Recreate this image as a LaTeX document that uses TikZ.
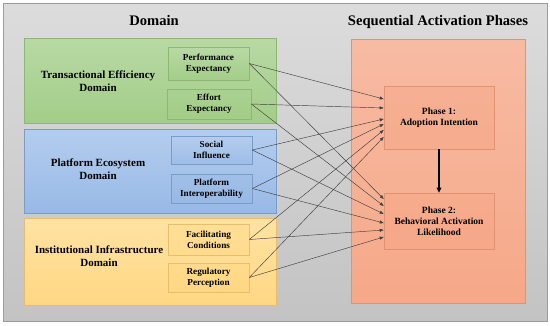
\documentclass[tikz,border=0pt]{standalone}
\usepackage{fontspec}
\setmainfont{Liberation Serif}
\usetikzlibrary{arrows.meta}
\definecolor{grayT}{HTML}{DCDCDC}
\definecolor{grayB}{HTML}{C3C3C3}
\definecolor{grnT}{HTML}{B8D9A4}
\definecolor{grnB}{HTML}{A3CD88}
\definecolor{grnD}{HTML}{8DB874}
\definecolor{bluT}{HTML}{B4CDEE}
\definecolor{bluB}{HTML}{98B9E6}
\definecolor{bluD}{HTML}{7C9CC8}
\definecolor{ylwT}{HTML}{FFE3A3}
\definecolor{ylwB}{HTML}{FFD783}
\definecolor{ylwD}{HTML}{E6BE6E}
\definecolor{salT}{HTML}{F7BBA3}
\definecolor{salB}{HTML}{F6A888}
\definecolor{salD}{HTML}{E09272}
\tikzset{
  outerbox/.style={draw=grayB!80!black, line width=0.4pt, top color=grayT, bottom color=grayB, rectangle, anchor=north west, inner sep=0pt},
  grnbox/.style={draw=grnD, line width=0.5pt, top color=grnT, bottom color=grnB, rectangle, anchor=north west, inner sep=0pt},
  blubox/.style={draw=bluD, line width=0.5pt, top color=bluT, bottom color=bluB, rectangle, anchor=north west, inner sep=0pt},
  ylwbox/.style={draw=ylwD, line width=0.5pt, top color=ylwT, bottom color=ylwB, rectangle, anchor=north west, inner sep=0pt},
  salbox/.style={draw=salD, line width=0.5pt, top color=salT, bottom color=salB, rectangle, anchor=north west, inner sep=0pt},
  smallbox/.style={rectangle, line width=0.6pt, align=center, inner sep=0pt, font=\fontsize{9.2}{11}\selectfont\bfseries},
  title/.style={font=\fontsize{14.6}{17}\selectfont\bfseries, inner sep=0pt},
  domlabel/.style={font=\fontsize{11}{13}\selectfont\bfseries, align=center, inner sep=0pt},
  conn/.style={draw=black!75, line width=0.45pt, -{Triangle[length=4pt,width=3pt]}},
  thick conn/.style={draw=black, line width=1.4pt, -{Triangle[length=5pt,width=4.5pt]}}
}
\begin{document}
\begin{tikzpicture}[x=1pt,y=-1pt]
\useasboundingbox[fill=white] (0,0) rectangle (550,325);
\node[outerbox, minimum width=544pt, minimum height=318pt] (bg) at (3,3) {};
\node[title] (tdom) at (154,21) {Domain};
\node[title] (tphase) at (438,22) {Sequential Activation Phases};
% domains
\node[grnbox, minimum width=252pt, minimum height=85pt] (gd) at (24,38) {};
\node[blubox, minimum width=252pt, minimum height=84pt] (bd) at (24,129) {};
\node[ylwbox, minimum width=252pt, minimum height=87pt] (yd) at (24,218) {};
\node[salbox, minimum width=174pt, minimum height=264pt] (sd) at (351,39) {};
\node[domlabel] (gl) at (98,81) {Transactional Efficiency\\Domain};
\node[domlabel] (bl) at (98,169) {Platform Ecosystem\\Domain};
\node[domlabel] (yl) at (99,256) {Institutional Infrastructure\\Domain};
% small boxes
\node[smallbox, draw=grnD, top color=grnT, bottom color=grnB!95!grnT, minimum width=81pt, minimum height=33pt] (pe) at (208.5,63.5) {Performance\\Expectancy};
\node[smallbox, draw=grnD, top color=grnB!70!grnT, bottom color=grnB, minimum width=84pt, minimum height=30pt] (ee) at (209,104) {Effort\\Expectancy};
\node[smallbox, draw=bluD, top color=bluT, bottom color=bluB!80!bluT, minimum width=81pt, minimum height=28pt] (si) at (211.5,150) {Social\\Influence};
\node[smallbox, draw=bluD, top color=bluB!70!bluT, bottom color=bluB, minimum width=81pt, minimum height=29pt] (pi) at (211.5,188.5) {Platform\\Interoperability};
\node[smallbox, draw=ylwD, top color=ylwT!60!ylwB, bottom color=ylwB!70!ylwT, minimum width=81pt, minimum height=31pt] (fc) at (208.5,239.5) {Facilitating\\Conditions};
\node[smallbox, draw=ylwD, top color=ylwB!70!ylwT, bottom color=ylwB, minimum width=81pt, minimum height=29pt] (rp) at (208.5,277.5) {Regulatory\\Perception};
% phases
\node[smallbox, draw=salD, top color=salT!40!salB, bottom color=salB!80!salT, minimum width=110pt, minimum height=63pt, font=\fontsize{9.5}{11}\selectfont\bfseries] (p1) at (439,117.5) {Phase 1:\\Adoption Intention};
\node[smallbox, draw=salD, top color=salB!80!salT, bottom color=salB, minimum width=110pt, minimum height=56pt, font=\fontsize{9.5}{11}\selectfont\bfseries] (p2) at (439,221) {Phase 2:\\Behavioral Activation\\Likelihood};
% connectors to phase 1
\draw[conn] (pe.east) -- ([yshift=18.5pt]p1.west);
\draw[conn] (ee.east) -- ([yshift=9.5pt]p1.west);
\draw[conn] (si.east) -- ([yshift=-1.5pt]p1.west);
\draw[conn] (pi.east) -- ([yshift=-6.5pt]p1.west);
\draw[conn] (fc.east) -- ([yshift=-12.5pt]p1.west);
\draw[conn] (rp.east) -- ([yshift=-19.5pt]p1.west);
% connectors to phase 2
\draw[conn] (pe.east) -- ([yshift=22pt]p2.west);
\draw[conn] (ee.east) -- ([yshift=15pt]p2.west);
\draw[conn] (si.east) -- ([yshift=7pt]p2.west);
\draw[conn] (pi.east) -- ([yshift=-2pt]p2.west);
\draw[conn] (fc.east) -- ([yshift=-9pt]p2.west);
\draw[conn] (rp.east) -- ([yshift=-16pt]p2.west);
\draw[thick conn] (p1.south) -- (p2.north);
\end{tikzpicture}
\end{document}
